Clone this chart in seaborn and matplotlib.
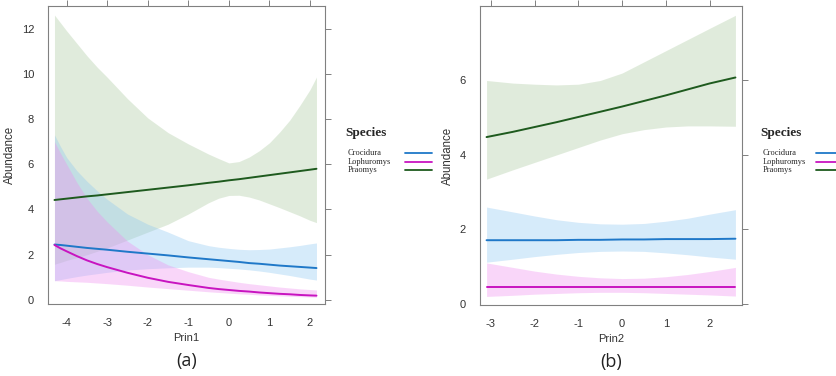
"""Predicted abundance vs. principal components (effect plots, panels a and b)."""
import matplotlib
matplotlib.use("Agg")
import matplotlib.pyplot as plt
import pandas as pd
import seaborn as sns
from matplotlib.lines import Line2D

SPECIES = ["Crocidura", "Lophuromys", "Praomys"]
LINE_COLORS = {"Crocidura": "#1f78c8", "Lophuromys": "#c814c0", "Praomys": "#1e5a1e"}
BAND_COLORS = {"Crocidura": "#8cc6f2", "Lophuromys": "#f08cf0", "Praomys": "#a8c89c"}

# ---- panel (a): Prin1 ----
prin1 = [-4.3, -4.15, -4.0, -3.75, -3.5, -3.25, -3.0, -2.5, -2.0, -1.5, -1.0, -0.5,
         -0.25, 0.0, 0.25, 0.5, 0.75, 1.0, 1.25, 1.5, 1.75, 2.0, 2.16]
a_fit = {
    "Crocidura": [2.45, 2.43, 2.40, 2.35, 2.30, 2.26, 2.22, 2.13, 2.05, 1.97, 1.88, 1.80,
                  1.76, 1.72, 1.68, 1.63, 1.60, 1.56, 1.52, 1.49, 1.46, 1.43, 1.41],
    "Lophuromys": [2.43, 2.28, 2.15, 1.94, 1.75, 1.59, 1.45, 1.20, 0.98, 0.80, 0.66, 0.53,
                   0.48, 0.44, 0.40, 0.37, 0.33, 0.30, 0.27, 0.25, 0.22, 0.20, 0.19],
    "Praomys": [4.42, 4.45, 4.48, 4.53, 4.58, 4.62, 4.67, 4.77, 4.87, 4.97, 5.07, 5.18,
                5.23, 5.29, 5.34, 5.40, 5.46, 5.52, 5.58, 5.64, 5.70, 5.76, 5.80],
}
a_lower = {
    "Crocidura": [0.85, 0.90, 0.95, 1.03, 1.10, 1.16, 1.22, 1.32, 1.38, 1.42, 1.45, 1.45,
                  1.43, 1.40, 1.37, 1.33, 1.28, 1.22, 1.15, 1.08, 1.00, 0.92, 0.88],
    "Lophuromys": [0.85, 0.84, 0.82, 0.80, 0.78, 0.75, 0.72, 0.65, 0.57, 0.50, 0.43, 0.36,
                   0.33, 0.30, 0.27, 0.25, 0.22, 0.20, 0.18, 0.16, 0.145, 0.13, 0.12],
    "Praomys": [1.58, 1.66, 1.75, 1.87, 2.00, 2.15, 2.30, 2.65, 3.00, 3.35, 3.80, 4.30,
                4.50, 4.62, 4.63, 4.55, 4.42, 4.25, 4.08, 3.90, 3.72, 3.52, 3.42],
}
a_upper = {
    "Crocidura": [7.30, 6.78, 6.30, 5.72, 5.25, 4.83, 4.45, 3.80, 3.35, 3.00, 2.62, 2.40,
                  2.33, 2.28, 2.24, 2.22, 2.23, 2.25, 2.30, 2.35, 2.41, 2.48, 2.52],
    "Lophuromys": [7.00, 6.48, 6.00, 5.20, 4.50, 3.93, 3.45, 2.60, 2.00, 1.55, 1.25, 1.00,
                   0.92, 0.85, 0.78, 0.72, 0.67, 0.62, 0.57, 0.53, 0.49, 0.46, 0.44],
    "Praomys": [12.6, 12.25, 11.9, 11.35, 10.8, 10.3, 9.85, 8.90, 8.05, 7.40, 6.90, 6.45,
                6.25, 6.06, 6.12, 6.32, 6.60, 6.95, 7.42, 7.95, 8.60, 9.30, 9.86],
}

# ---- panel (b): Prin2 ----
prin2 = [-3.1, -2.5, -2.0, -1.5, -1.0, -0.5, 0.0, 0.5, 1.0, 1.5, 2.0, 2.59]
b_fit = {
    "Crocidura": [1.71, 1.71, 1.71, 1.71, 1.72, 1.72, 1.73, 1.73, 1.74, 1.74, 1.74, 1.75],
    "Lophuromys": [0.45, 0.45, 0.45, 0.45, 0.45, 0.45, 0.45, 0.45, 0.45, 0.45, 0.45, 0.45],
    "Praomys": [4.48, 4.62, 4.75, 4.88, 5.02, 5.16, 5.30, 5.45, 5.60, 5.76, 5.92, 6.08],
}
b_lower = {
    "Crocidura": [1.12, 1.20, 1.27, 1.33, 1.38, 1.41, 1.42, 1.41, 1.37, 1.32, 1.26, 1.20],
    "Lophuromys": [0.20, 0.23, 0.26, 0.28, 0.30, 0.31, 0.31, 0.30, 0.28, 0.26, 0.24, 0.21],
    "Praomys": [3.35, 3.60, 3.80, 4.00, 4.20, 4.40, 4.57, 4.68, 4.75, 4.78, 4.78, 4.77],
}
b_upper = {
    "Crocidura": [2.60, 2.47, 2.36, 2.26, 2.19, 2.15, 2.14, 2.16, 2.22, 2.30, 2.41, 2.53],
    "Lophuromys": [1.10, 0.98, 0.88, 0.80, 0.74, 0.70, 0.68, 0.69, 0.73, 0.79, 0.87, 0.98],
    "Praomys": [6.00, 5.93, 5.90, 5.88, 5.90, 6.00, 6.20, 6.50, 6.80, 7.10, 7.40, 7.75],
}

sns.set_style("white")
plt.rcParams["font.family"] = ["Liberation Sans", "DejaVu Sans"]
plt.rcParams["axes.unicode_minus"] = False
GREY = "#808080"
SERIF = ["Liberation Serif", "DejaVu Serif"]
W, H = 837, 376


def long_frame(x, fit):
    rows = []
    for sp in SPECIES:
        for xv, yv in zip(x, fit[sp]):
            rows.append((sp, xv, yv))
    return pd.DataFrame(rows, columns=["Species", "x", "Abundance"])


def species_key(fig, left, key_left):
    """Lattice-style key: heading, names on the left, line samples on the right."""
    fig.text(left / W, 1 - 133 / H, "Species", ha="left", va="center",
             family=SERIF, weight="bold", fontsize=9.5)
    for i, sp in enumerate(SPECIES):
        y = 1 - (153 + 8.5 * i) / H
        fig.text((left + 3) / W, y, sp, ha="left", va="center", family=SERIF, fontsize=6)
        fig.add_artist(Line2D([key_left / W, (key_left + 27) / W], [y, y],
                              transform=fig.transFigure, color=LINE_COLORS[sp], lw=1.3))


def panel(ax, x, fit, lower, upper, xlabel, xlim, ylim, xticks, yticks, tag):
    for sp in ["Praomys", "Crocidura", "Lophuromys"]:
        ax.fill_between(x, lower[sp], upper[sp], color=BAND_COLORS[sp], alpha=0.35, lw=0)
    sns.lineplot(data=long_frame(x, fit), x="x", y="Abundance", hue="Species",
                 hue_order=SPECIES, palette=LINE_COLORS, lw=1.4, legend=False, ax=ax)
    ax.set_xlim(*xlim)
    ax.set_ylim(*ylim)
    ax.set_xticks(xticks)
    ax.set_yticks(yticks)
    ax.tick_params(direction="out", length=4, width=0.7, color=GREY, pad=6,
                   top=True, right=True, labelsize=8, labelcolor="#333333")
    for s in ax.spines.values():
        s.set_color(GREY)
        s.set_linewidth(0.8)
    ax.set_xlabel(xlabel, fontsize=8, color="#333333", labelpad=4)
    ax.set_ylabel("Abundance", fontsize=8.3, color="#333333", labelpad=4)
    ax.text(0.5, -0.19, tag, transform=ax.transAxes, ha="center", va="center",
            fontsize=13, family=["Open Sans", "DejaVu Sans"], color="#222222")


fig = plt.figure(figsize=(8.37, 3.76), dpi=100)
ax_a = fig.add_axes([48 / W, 1 - 304 / H, 277 / W, 298 / H])
ax_b = fig.add_axes([480 / W, 1 - 305 / H, 262 / W, 299 / H])

panel(ax_a, prin1, a_fit, a_lower, a_upper, "Prin1", (-4.46, 2.37), (-0.18, 13.0),
      [-4, -3, -2, -1, 0, 1, 2], [0, 2, 4, 6, 8, 10, 12], "(a)")
panel(ax_b, prin2, b_fit, b_lower, b_upper, "Prin2", (-3.25, 2.74), (-0.03, 8.0),
      [-3, -2, -1, 0, 1, 2], [0, 2, 4, 6], "(b)")
species_key(fig, 345, 405)
species_key(fig, 760, 816)

fig.savefig("out.png", dpi=100)
